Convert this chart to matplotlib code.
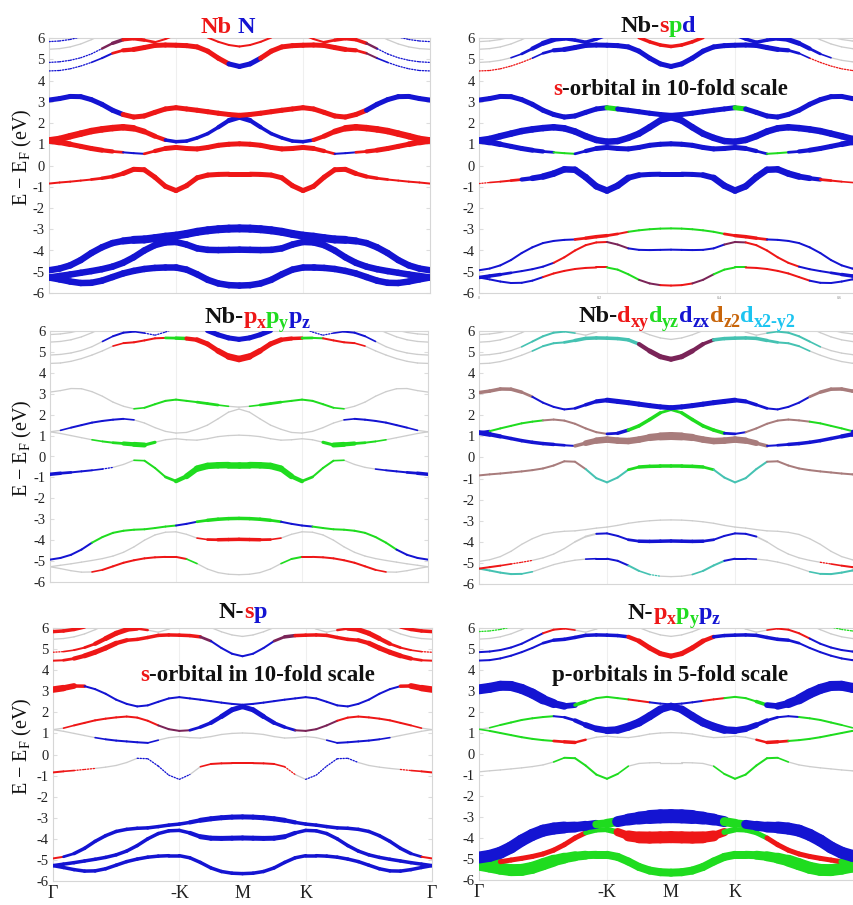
import numpy as np
import matplotlib
matplotlib.use('Agg')
import matplotlib.pyplot as plt
from matplotlib.collections import LineCollection
from matplotlib.transforms import IdentityTransform

plt.rcParams['font.family'] = ['Liberation Serif', 'DejaVu Serif']
plt.rcParams['mathtext.fontset'] = 'custom'
plt.rcParams['mathtext.rm'] = 'Liberation Serif'
plt.rcParams['mathtext.it'] = 'Liberation Serif:italic'
plt.rcParams['mathtext.bf'] = 'Liberation Serif:bold'

# ---------------- data ----------------
k_labels = ['Γ', '-K', 'M', 'K', 'Γ']
k_ticks = [0, 1/3, 1/2, 2/3, 1]
y_ticks = list(range(-6, 7))

nan = np.nan
# band energies (eV) on the half path Γ -> -K -> M (19 nodes, -K at node 12, M at node 18); path is mirror-symmetric about M
LB = [-5.27, -5.36, -5.46, -5.53, -5.52, -5.42, -5.25, -5.08, -4.96, -4.87, -4.82, -4.80, -4.80, -4.90, -5.12, -5.38, -5.55, -5.63, -5.65]
LM = [-5.27, -5.20, -5.13, -5.05, -4.97, -4.88, -4.76, -4.58, -4.32, -4.00, -3.75, -3.62, -3.60, -3.72, -3.90, -3.97, -3.98, -3.97, -3.96]
LT = [-4.93, -4.85, -4.70, -4.45, -4.12, -3.85, -3.65, -3.55, -3.50, -3.48, -3.42, -3.35, -3.30, -3.22, -3.12, -3.05, -3.00, -2.97, -2.96]
C1 = [-0.85, -0.80, -0.76, -0.71, -0.66, -0.60, -0.52, -0.38, -0.18, -0.20, -0.55, -0.98, -1.18, -0.95, -0.58, -0.45, -0.42, -0.41, -0.41]
C2 = [1.18, 1.10, 1.00, 0.90, 0.80, 0.72, 0.66, 0.62, 0.58, 0.55, 0.68, 0.80, 0.85, 0.80, 0.78, 0.85, 0.95, 1.00, 1.02]
C3 = [1.18, 1.25, 1.38, 1.50, 1.62, 1.70, 1.76, 1.80, 1.75, 1.60, 1.38, 1.20, 1.12, 1.15, 1.30, 1.50, 1.80, 2.12, 2.27]
C4 = [3.08, 3.15, 3.25, 3.24, 3.10, 2.88, 2.60, 2.40, 2.28, 2.33, 2.50, 2.66, 2.72, 2.66, 2.60, 2.53, 2.46, 2.40, 2.36]
U1 = [4.45, 4.47, 4.55, 4.68, 4.85, 5.05, 5.28, 5.42, 5.46, 5.55, 5.65, 5.67, 5.66, 5.64, 5.58, 5.38, 5.05, 4.78, 4.66]
U2 = [4.85, 4.88, 4.95, 5.07, 5.25, 5.50, 5.75, 5.92, 5.97, 5.90, 5.80, 5.95, 6.15, nan, nan, 6.02, 5.82, 5.67, 5.60]
U3 = [5.47, 5.50, 5.58, 5.72, 5.92, 6.15, nan, nan, nan, nan, nan, nan, nan, nan, nan, nan, nan, nan, nan]
U4 = [5.83, 5.86, 5.93, 6.05, nan, nan, nan, nan, nan, nan, nan, nan, nan, nan, nan, nan, nan, nan, nan]
band_names = ['LB', 'LM', 'LT', 'C1', 'C2', 'C3', 'C4', 'U1', 'U2', 'U3', 'U4']
bands_half = dict(LB=LB, LM=LM, LT=LT, C1=C1, C2=C2, C3=C3, C4=C4, U1=U1, U2=U2, U3=U3, U4=U4)

# orbital projections: dominant-orbital code and weight level per node (half path)
P1_col = dict(LB="bbbbbbbbbbbbbbbbbbb", LM="bbbbbbbbbbbbbbbbbbb", LT="bbbbbbbbbbbbbbbbbbb",
              C1="rrrrrrrrrrrrrrrrrrr", C2="rrrrrrrbbbrrrrrrrrr", C3="rrrrrrrrrrrbbbbbbbb",
              C4="bbbbbbbrrrrrrrrrrrr", U1="bbbbbbmrrrrrrrrrrbb", U2="bbbbbbmrrrrrrrrrrrr",
              U3="kkkkkkkkkkkkkkkkkkk", U4="bbbbbbbbbbbbbbbbbbb")
P1_wt = dict(LB="4444444444444444444", LM="4444444444444444444", LT="4444444455555555555",
             C1="1111122333333333333", C2="4433332111233333333", C3="4444444443322222233",
             C4="3333333333333333333", U1="0000011233333333333", U2="0000002222111111111",
             U3="0000000000000000000", U4="0000000000000000000")

P2_col = dict(LB="bbbbbbrrrrrrgggmmrr", LM="bbbbbbbrrrrrmmbbbbb", LT="bbbbbbbbbbrrrrggggg",
              C1="rrrrrbbbbbbbbbbbbbb", C2="bbbbbbbgggbbbbbbbbb", C3="bbbbbbbbbbbbbbbbbbb",
              C4="bbbbbbbbbbbbgbbbbbb", U1="rrrrrrbbbbbbbbbbbbb", U2="kkkkbbbbbbbbbbbrrrr",
              U3="kkkkkkkkkkkkkkkkkkk", U4="kkkkkkkkkkkkkkkkkkk")
P2_wt = dict(LB="1111111111111111111", LM="2221111111111111111", LT="1111111111222111111",
             C1="0011234444444443333", C2="4433332111233333333", C3="4444444444444444444",
             C4="3333333333333333333", U1="0000001233333333333", U2="0000123322222222222",
             U3="0000000000000000000", U4="0000000000000000000")

P3_col = dict(LB="kkkkkrrrrrrrrgkkkkk", LM="kkkkkkkkkkkkkkkrrrr", LT="bbbbggggggggbbbgggg",
              C1="bbbbbbkkkgggggggggg", C2="kkkkkgggggkkkkkkkkk", C3="kkbbbbbbkkkkkkkkkkk",
              C4="kkkkkkkkkggggggggkk", U1="kkkkkkkrrrrggrrrrrr", U2="kkkkkkbbbbbbbbbbbbb",
              U3="kkkkkkkkkkkkkkkkkkk", U4="kkkkkkkkkkkkkkkkkkk")
P3_wt = dict(LB="0000011111111100000", LM="0000000000000001222", LT="1111111111111112222",
             C1="2211100001112344444", C2="0000011233000000000", C3="0011111100000000000",
             C4="0000000001111112100", U1="0000000111112233344", U2="0000001110000003333",
             U3="0000000000000000000", U4="0000000000000000000")

P4_col = dict(LB="tttttkkkkkkbbbtttkk", LM="rrrrrkkkkkkbbbbbbbb", LT="kkkkkkkkkkkkkkkkkkk",
              C1="pppppppppptttttgggg", C2="bbbbbbbbbbppppppppp", C3="bgggggppppppbbggggt",
              C4="pppppbbbbbbbbbbbbbb", U1="kkkkkktttttttttmmmm", U2="kkkkkttttkkkkkkkkkk",
              U3="kkkkkkkkkkkkkkkkkkk", U4="kkkkkkkkkkkkkkkkkkk")
P4_wt = dict(LB="1111100000011111000", LM="1110000000111112222", LT="0000000000000000000",
             C1="1111111111111112222", C2="3322222211344444455", C3="2111111111111222221",
             C4="2222211111223333333", U1="0000001112222222333", U2="0000011110000000000",
             U3="0000000000000000000", U4="0000000000000000000")

P5_col = dict(LB="bbbbbbbbbbbbbbbbbbb", LM="bbbbbbbbbbbbbbbbbbb", LT="rrbbbbbbbbbbbbbbbbb",
              C1="rrrrkkkkbbbbbkrrrrr", C2="kkkkkbbbbbkkkkkkkkk", C3="kkrrrrrrrrmmmmbbbbb",
              C4="rrrbbbbbbbbbbbbbbbb", U1="rrrrrrrrrrrrrrmbbbb", U2="rrrrrrrrrkkkkkkkkkk",
              U3="kkkkkkkkkkkkkkkkkkk", U4="rrrrrrrrrrrrrrrrrrr")
P5_wt = dict(LB="2222222222222222222", LM="2222222222222233333", LT="1122222222222233333",
             C1="1100000000000001111", C2="0000011111000000000", C3="0011111111111122333",
             C4="4431111111111111111", U1="1123333222222221111", U2="0011233320000000000",
             U3="0000000000000000000", U4="2222222222222222222")

P6_col = dict(LB="ggggggggggggggggggg", LM="ggrrrrrrrrggggrrrrr", LT="bbbbbbbbbbbgggbbbbb",
              C1="kkkkkkkkggggggkkkkk", C2="kgggggggrrkkkkkkkkk", C3="kkgggggbbbbbbbbbbbb",
              C4="bbbbbbbbbgggggrrbbb", U1="bbbbbbbbbbbbbbbrrrr", U2="bbbbbbrrrkkkkkkkkkk",
              U3="kkkkkkkkkkkkkkkkkkk", U4="ggggggggggggggggggg")
P6_wt = dict(LB="7777777766555555555", LM="5533333333333467777", LT="7777777776655677888",
             C1="0000000011111100000", C2="0111111122000000000", C3="0011111112344555554",
             C4="6666666543111111111", U1="1111111222222223333", U2="1111111110000000000",
             U3="0000000000000000000", U4="0000000000000000000")

# ---------------- styles ----------------
COL = {'r': '#ee1717', 'g': '#1fdc1f', 'b': '#1414d2', 'k': '#cdcdcd',
       't': '#45c2b2', 'p': '#a87c7c', 'm': '#7a2458'}
WPX = [1.3, 2.0, 3.5, 5.0, 6.5, 8.0, 10.0, 12.0, 14.0, 16.0]
TXT_R, TXT_G, TXT_B = '#ee1717', '#1fdc1f', '#1414d2'
TXT_O, TXT_C = '#c8650a', '#1cc4f0'

FW, FH = 854, 905
fig = plt.figure(figsize=(FW / 100, FH / 100), dpi=100)
renderer = fig.canvas.get_renderer()

boxes = {'P1': (49, 38, 430, 293), 'P2': (479, 38, 863, 293),
         'P3': (50, 331, 428, 582), 'P4': (479, 331, 863, 584),
         'P5': (53, 628, 432, 881), 'P6': (479, 628, 863, 880)}
proj = {'P1': (P1_col, P1_wt), 'P2': (P2_col, P2_wt), 'P3': (P3_col, P3_wt),
        'P4': (P4_col, P4_wt), 'P5': (P5_col, P5_wt), 'P6': (P6_col, P6_wt)}

n_half = len(LB)
kfull = np.arange(2 * n_half - 1) / (2 * (n_half - 1))


def mirror(seq):
    return list(seq) + list(seq[-2::-1])


def fix(s):
    return (s + s[-1] * n_half)[:n_half]


def draw_panel(ax, name):
    cols, wts = proj[name]
    thin_segs, thin_c, thin_w = [], [], []
    fat = []
    for bn in band_names:
        E = np.array(mirror(bands_half[bn]), dtype=float)
        cs = mirror(fix(cols[bn]))
        ds = [int(c) for c in mirror(fix(wts[bn]))]
        segs, cc, ww, ls = [], [], [], []
        for i in range(len(kfull) - 1):
            seg = [(kfull[i], E[i]), (kfull[i + 1], E[i + 1])]
            c = cs[i] if ds[i] >= ds[i + 1] else cs[i + 1]
            w = 0.5 * (WPX[ds[i]] + WPX[ds[i + 1]]) * 0.72
            if c == 'k':
                thin_segs.append(seg); thin_c.append(COL[c]); thin_w.append(w)
            else:
                segs.append(seg); cc.append(COL[c]); ww.append(w)
                ls.append((0, (1.0, 1.2)) if max(ds[i], ds[i + 1]) == 0 else 'solid')
        fat.append((segs, cc, ww, ls))
    ax.add_collection(LineCollection(thin_segs, colors=thin_c, linewidths=thin_w,
                                     capstyle='round', joinstyle='round', zorder=2))
    for z, (segs, cc, ww, ls) in enumerate(fat):
        if segs:
            ax.add_collection(LineCollection(segs, colors=cc, linewidths=ww, linestyles=ls,
                                             capstyle='round', joinstyle='round', zorder=3 + z))


axes = {}
for name, (x0, y0, x1, y1) in boxes.items():
    ax = fig.add_axes([x0 / FW, 1 - y1 / FH, (x1 - x0) / FW, (y1 - y0) / FH])
    axes[name] = ax
    ax.set_xlim(0, 1)
    ax.set_ylim(-6, 6)
    for sp in ax.spines.values():
        sp.set_color('#d6d6d6'); sp.set_linewidth(0.8)
    ax.set_yticks(y_ticks)
    ax.set_yticklabels([str(v) for v in y_ticks])
    ax.tick_params(axis='y', direction='in', length=3, color='#dddddd', right=True,
                   labelsize=10.5, labelcolor='#222222', pad=3)
    for xv in (1 / 3, 2 / 3):
        ax.axvline(xv, color='#efefef', lw=0.8, zorder=0)
    if name in ('P5', 'P6'):
        ax.set_xticks(k_ticks)
        ax.set_xticklabels(k_labels, fontsize=13, color='#222222')
        ax.tick_params(axis='x', length=0, pad=3)
    else:
        ax.set_xticks([])
    draw_panel(ax, name)

# tiny x tick labels of panel 2
for frac, lab in [(0.0, '0'), (0.3125, '0.2'), (0.625, '0.4'), (0.9375, '0.6')]:
    axes['P2'].text(frac, -6.15, lab, fontsize=3, color='#888888', ha='center', va='top')

# y labels
for name in ('P1', 'P3', 'P5'):
    x0, y0, x1, y1 = boxes[name]
    fig.text(22 / FW, 1 - ((y0 + y1) / 2 - 8) / FH, r'E $-$ E$_{\mathrm{F}}$ (eV)', rotation=90,
             ha='center', va='center', fontsize=14.5, color='#111111')


def seq_text(pieces, x_px, base_px, size, align='center'):
    objs, widths = [], []
    for s, c, sub in pieces:
        fs = size * 0.74 if sub else size
        t = fig.text(0, 0, s, color=c, fontsize=fs, fontweight='bold', ha='left',
                     va='baseline', transform=IdentityTransform())
        objs.append((t, sub))
        widths.append(t.get_window_extent(renderer).width)
    total = sum(widths)
    x = x_px - total / 2 if align == 'center' else x_px
    ybase = FH - base_px
    for (t, sub), w in zip(objs, widths):
        t.set_position((x, ybase - (size * 100 / 72 * 0.2 if sub else 0)))
        x += w


K = '#111111'
seq_text([('Nb', TXT_R, 0), (' ', K, 0), ('N', TXT_B, 0)], 228, 33, 17.5)
seq_text([('Nb-', K, 0), ('s', TXT_R, 0), ('p', TXT_G, 0), ('d', TXT_B, 0)], 658, 32, 17.5)
seq_text([('Nb-', K, 0), ('p', TXT_R, 0), ('x', TXT_R, 1), ('p', TXT_G, 0), ('y', TXT_G, 1),
          ('p', TXT_B, 0), ('z', TXT_B, 1)], 257, 323, 17.5)
seq_text([('Nb-', K, 0), ('d', TXT_R, 0), ('xy', TXT_R, 1), ('d', TXT_G, 0), ('yz', TXT_G, 1),
          ('d', TXT_B, 0), ('zx', TXT_B, 1), ('d', TXT_O, 0), ('z2', TXT_O, 1),
          ('d', TXT_C, 0), ('x2-y2', TXT_C, 1)], 687, 322, 17.5)
seq_text([('N-', K, 0), ('s', TXT_R, 0), ('p', TXT_B, 0)], 243, 618, 17.5)
seq_text([('N-', K, 0), ('p', TXT_R, 0), ('x', TXT_R, 1), ('p', TXT_G, 0), ('y', TXT_G, 1),
          ('p', TXT_B, 0), ('z', TXT_B, 1)], 674, 619, 17.5)

seq_text([('s', TXT_R, 0), ('-orbital in 10-fold scale', K, 0)], 553, 95, 16.5, align='left')
seq_text([('s', TXT_R, 0), ('-orbital in 10-fold scale', K, 0)], 140, 681, 16.5, align='left')
seq_text([('p-orbitals in 5-fold scale', K, 0)], 552, 681, 16.5, align='left')

fig.savefig('out.png', dpi=100)
